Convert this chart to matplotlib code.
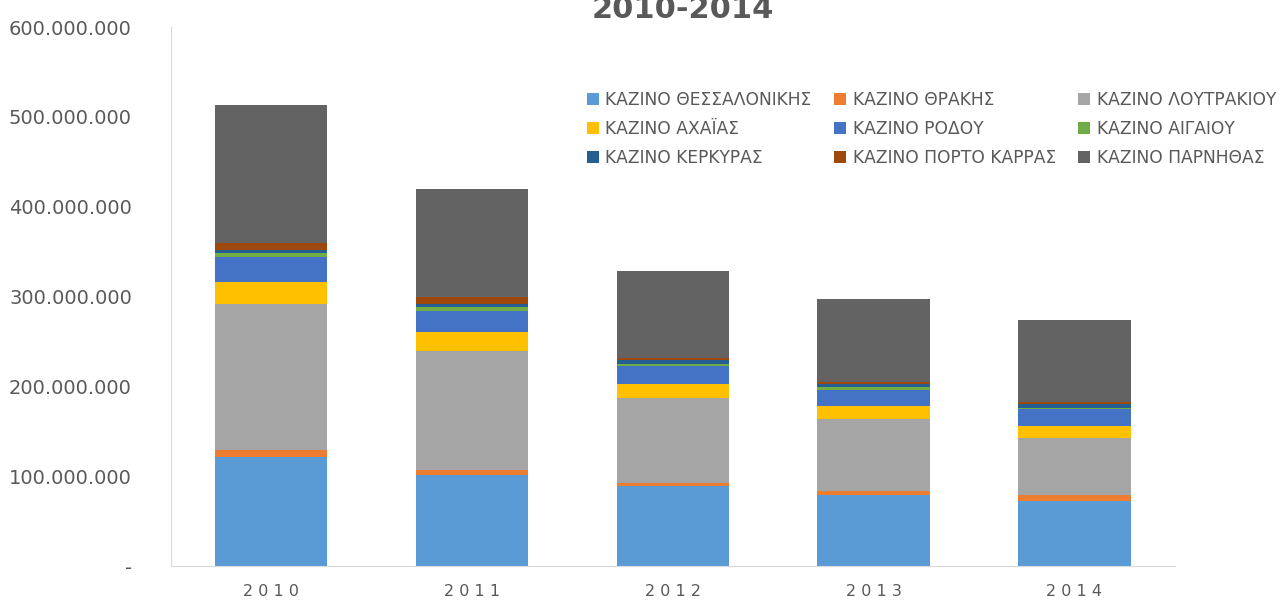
import matplotlib
matplotlib.use("Agg")
import matplotlib.pyplot as plt
from matplotlib.ticker import FuncFormatter
import numpy as np

# values in millions of euro
years = ["2010", "2011", "2012", "2013", "2014"]
casinos = ["ΚΑΖΙΝΟ ΘΕΣΣΑΛΟΝΙΚΗΣ", "ΚΑΖΙΝΟ ΘΡΑΚΗΣ", "ΚΑΖΙΝΟ ΛΟΥΤΡΑΚΙΟΥ",
           "ΚΑΖΙΝΟ ΑΧΑΪΑΣ", "ΚΑΖΙΝΟ ΡΟΔΟΥ", "ΚΑΖΙΝΟ ΑΙΓΑΙΟΥ",
           "ΚΑΖΙΝΟ ΚΕΡΚΥΡΑΣ", "ΚΑΖΙΝΟ ΠΟΡΤΟ ΚΑΡΡΑΣ", "ΚΑΖΙΝΟ ΠΑΡΝΗΘΑΣ"]

thessaloniki = [121, 101, 88.7, 79.4, 72]
thraki = [8, 6.3, 4.1, 3.7, 6.7]
loutraki = [163, 132.5, 94.3, 80.5, 63.5]
achaia = [24, 20.4, 15.6, 14.1, 13.7]
rodos = [28, 24, 19.7, 18.6, 19.3]
aigaio = [5, 3.7, 2.6, 2.6, 1.1]
kerkyra = [3, 3.7, 4.5, 4.1, 4.1]
porto_carras = [8, 8, 1.9, 1.5, 2.2]
parnitha = [153, 120, 97.6, 93.2, 91.3]

series = [thessaloniki, thraki, loutraki, achaia, rodos,
          aigaio, kerkyra, porto_carras, parnitha]
colors = ["#5B9BD5", "#ED7D31", "#A5A5A5", "#FFC000", "#4472C4",
          "#70AD47", "#255E91", "#9E480E", "#636363"]

txt = "#595959"

fig = plt.figure(figsize=(12.84, 6.01), dpi=100)
ax = fig.add_axes([0.133, 0.058, 0.782, 0.897])

x = np.arange(len(years))
bottom = np.zeros(len(years))
bars = []
for name, vals, c in zip(casinos, series, colors):
    v = np.array(vals) * 1e6
    b = ax.bar(x, v, 0.56, bottom=bottom, color=c, label=name, linewidth=0)
    bars.append(b)
    bottom += v

ax.set_xlim(-0.5, len(years) - 0.5)
ax.set_ylim(0, 600e6)
ax.set_yticks(np.arange(0, 600e6 + 1, 100e6))


def fmt(v, pos):
    if v == 0:
        return "-"
    return f"{v:,.0f}".replace(",", ".")


ax.yaxis.set_major_formatter(FuncFormatter(fmt))
ax.set_xticks(x)
ax.set_xticklabels([" ".join(y) for y in years])

for s in ["top", "right"]:
    ax.spines[s].set_visible(False)
ax.spines["left"].set_color("#d9d9d9")
ax.spines["bottom"].set_color("#d9d9d9")
ax.tick_params(axis="y", length=0, labelsize=14, labelcolor=txt, pad=28)
ax.tick_params(axis="x", length=0, labelsize=11.5, labelcolor=txt, pad=13)

# legend is filled row by row in the reference
order = [0, 3, 6, 1, 4, 7, 2, 5, 8]
fig.legend([bars[i] for i in order], [casinos[i] for i in order],
           ncol=3, loc="upper left", bbox_to_anchor=(578 / 1284, 1 - 82 / 601),
           frameon=False, fontsize=12.3, handlelength=0.7,
           handleheight=0.7, handletextpad=0.4, columnspacing=1.3,
           labelspacing=0.66, borderpad=0, labelcolor=txt)

fig.text(0.532, 1 - 9 / 601, "2010-2014", ha="center", va="center",
         fontsize=22, fontweight="bold", color=txt)

fig.savefig("out.png", dpi=100)
